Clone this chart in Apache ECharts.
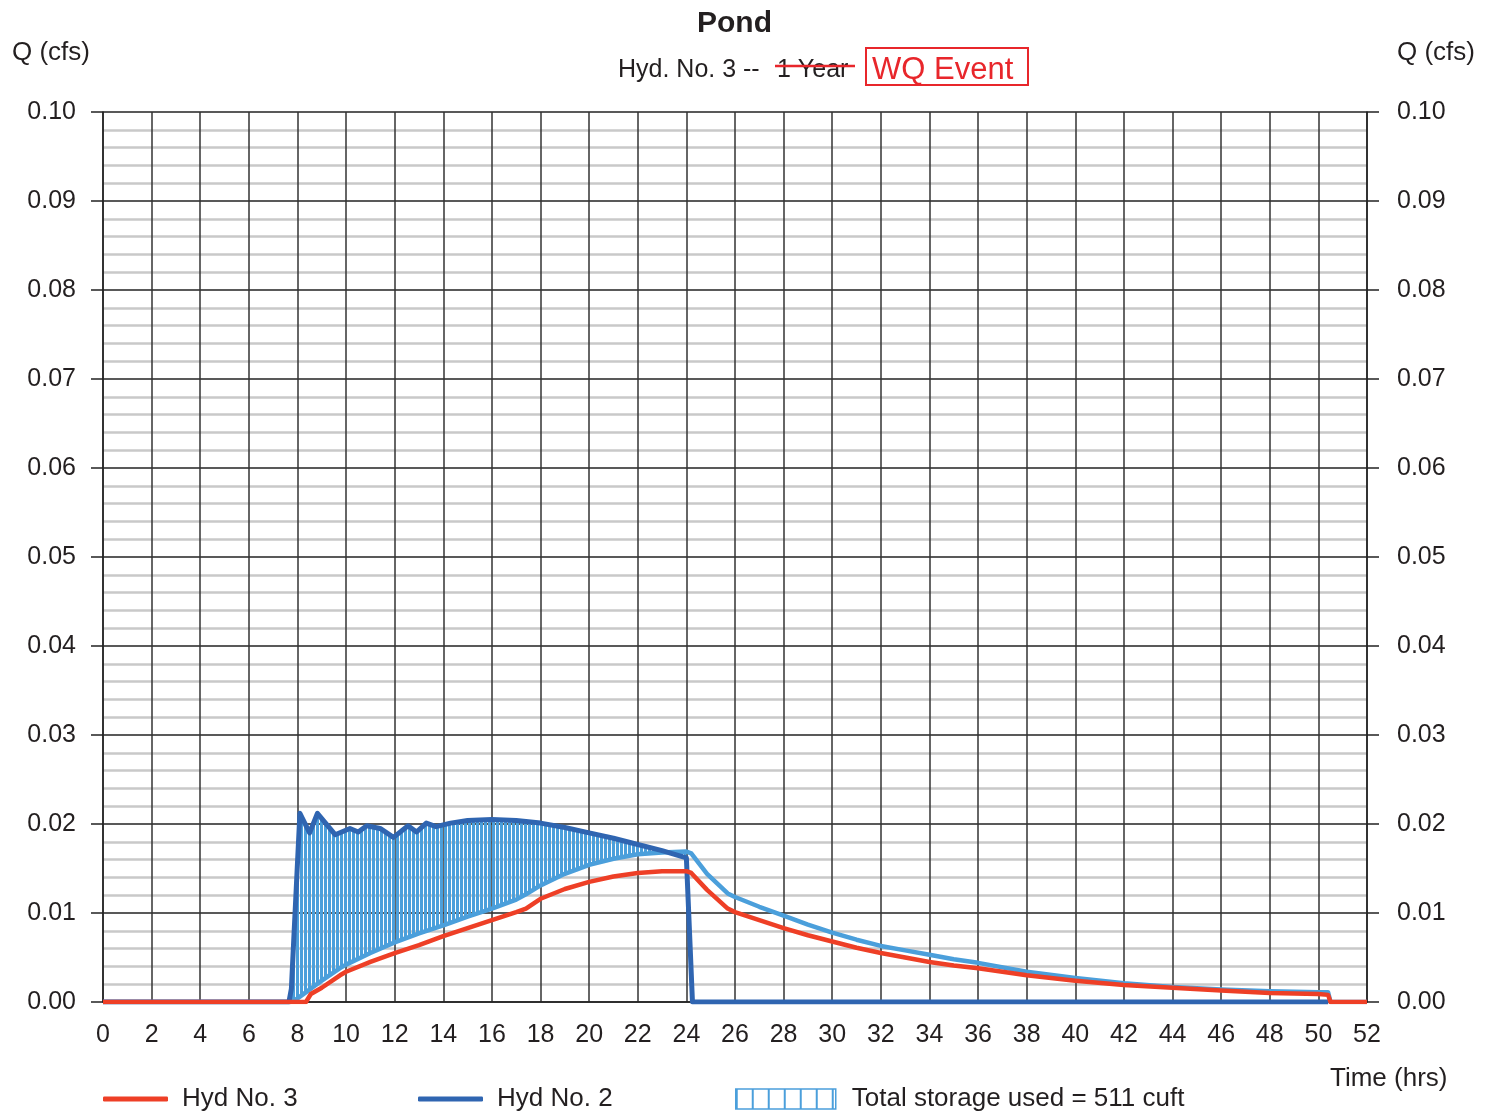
<!DOCTYPE html>
<html>
<head>
	<meta charset="utf-8">
	<title>Pond</title>
	<script src="https://cdn.jsdelivr.net/npm/echarts@6.0.0/dist/echarts.min.js"></script>
	<style>
		html, body { margin: 0; padding: 0; background: #fff; }
		#chart { width: 1494px; height: 1114px; }
	</style>
</head>
<body>
	<div id="chart"></div>
	<script>
		// Hyd No. 3 (outflow, red)
		var hyd3Time = [0, 8.35, 8.55, 9, 9.75, 10, 11, 12, 13, 14, 15, 16, 17, 17.4, 18, 19, 20, 21, 22, 23, 24, 24.2, 24.85, 25.7, 26, 27, 28, 29, 30, 31, 32, 33, 34, 35, 36, 38, 40, 42, 44, 46, 48, 50, 50.4, 50.5, 52];
		var hyd3Q = [0, 0, 0.0009, 0.0016, 0.0030, 0.0034, 0.0045, 0.0055, 0.0064, 0.0074, 0.0083, 0.0092, 0.0101, 0.0105, 0.0116, 0.0127, 0.0135, 0.0141, 0.0145, 0.0147, 0.0147, 0.0145, 0.0126, 0.0105, 0.0101, 0.0092, 0.0083, 0.0075, 0.0068, 0.0061, 0.0055, 0.0050, 0.0045, 0.0041, 0.0038, 0.0030, 0.0024, 0.0019, 0.0016, 0.0013, 0.0010, 0.0009, 0.0008, 0, 0];

		// Hyd No. 2 (dark blue)
		var hyd2Time = [0, 7.65, 7.75, 8.1, 8.5, 8.82, 9.55, 10.16, 10.5, 10.85, 11.4, 11.95, 12.55, 12.9, 13.3, 13.7, 14.3, 15, 16, 17, 18, 19, 20, 21, 22, 23, 24, 24.25, 50.4];
		var hyd2Q = [0, 0, 0.0015, 0.0212, 0.0190, 0.0212, 0.0188, 0.0195, 0.0191, 0.0198, 0.0195, 0.0185, 0.0198, 0.0191, 0.0201, 0.0197, 0.0201, 0.0204, 0.0205, 0.0204, 0.0201, 0.0196, 0.0190, 0.0184, 0.0177, 0.0170, 0.0162, 0, 0];

		// light blue hydrograph (not in legend)
		var hyd1Time = [0, 7.7, 8.0, 8.4, 8.6, 9, 9.75, 10, 11, 12, 13, 14, 15, 16, 17, 17.4, 18, 19, 20, 21, 22, 23, 24, 24.2, 24.85, 25.7, 26, 27, 28, 29, 30, 31, 32, 33, 34, 35, 36, 38, 40, 42, 44, 46, 48, 50, 50.4, 50.5, 52];
		var hyd1Q = [0, 0, 0.0004, 0.0012, 0.0016, 0.0024, 0.0038, 0.0042, 0.0055, 0.0067, 0.0077, 0.0086, 0.0096, 0.0105, 0.0115, 0.0121, 0.0131, 0.0144, 0.0154, 0.0161, 0.0166, 0.0168, 0.0169, 0.0167, 0.0144, 0.0122, 0.0118, 0.0107, 0.0097, 0.0087, 0.0078, 0.0070, 0.0063, 0.0058, 0.0053, 0.0048, 0.0044, 0.0034, 0.0027, 0.0021, 0.0017, 0.0014, 0.0012, 0.0011, 0.0011, 0, 0];

		// storage hatch range (hrs)
		var storageRange = [7.6, 24];

		var xTicks = { min: 0, max: 52, interval: 2 };
		var yTicks = { min: 0, max: 0.1, interval: 0.01 };

		var FONT = '"Liberation Sans", Arial, Helvetica, sans-serif';
		var RED = '#ee3f26';
		var DARKBLUE = '#2f65b1';
		var LIGHTBLUE = '#4b9fdb';
		var TEXT = '#231f20';

		function pairs(t, q) {
			var out = [];
			for (var i = 0; i < t.length; i++) out.push([t[i], q[i]]);
			return out;
		}

		// vertical hatch, transparent gaps
		function stripes(period, bar) {
			var c = document.createElement('canvas');
			c.width = period; c.height = 4;
			var ctx = c.getContext('2d');
			ctx.fillStyle = LIGHTBLUE;
			ctx.fillRect(0, 0, bar, 4);
			return c;
		}
		var hatchCanvas = stripes(4, 3);
		var legendHatch = stripes(16, 2);

		var chart = echarts.init(document.getElementById('chart'));

		chart.setOption({
			animation: false,
			title: {
				text: 'Pond',
				left: 697,
				top: 9,
				padding: 0,
				textStyle: { fontFamily: FONT, fontSize: 30, fontWeight: 'bold', color: TEXT }
			},
			grid: { left: 103, right: 127, top: 112, bottom: 112, outerBoundsMode: 'none' },
			legend: [
				{
					left: 103, top: 1086, padding: 0, itemWidth: 65, itemHeight: 5, selectedMode: false,
					data: [{ name: 'Hyd No. 3', icon: 'roundRect', itemStyle: { color: RED } }],
					textStyle: { fontFamily: FONT, fontSize: 26, color: TEXT, padding: [0, 0, 0, 9] }
				},
				{
					left: 418, top: 1086, padding: 0, itemWidth: 65, itemHeight: 5, selectedMode: false,
					data: [{ name: 'Hyd No. 2', icon: 'roundRect', itemStyle: { color: DARKBLUE } }],
					textStyle: { fontFamily: FONT, fontSize: 26, color: TEXT, padding: [0, 0, 0, 9] }
				},
				{
					left: 735, top: 1086, padding: 0, itemWidth: 100, itemHeight: 20, selectedMode: false,
					data: [{
						name: 'Total storage used = 511 cuft', icon: 'rect',
						itemStyle: { color: { image: legendHatch, repeat: 'repeat' }, borderColor: LIGHTBLUE, borderWidth: 1.5 }
					}],
					textStyle: { fontFamily: FONT, fontSize: 26, color: TEXT, padding: [0, 0, 0, 11] }
				}
			],
			xAxis: {
				type: 'value',
				min: xTicks.min, max: xTicks.max, interval: xTicks.interval,
				axisLine: { show: true, onZero: false, lineStyle: { color: '#222', width: 1.5 } },
				axisTick: { show: false },
				axisLabel: { fontFamily: FONT, fontSize: 25, color: TEXT, margin: 21 },
				splitLine: { show: true, lineStyle: { color: '#333', width: 1.5 } }
			},
			yAxis: [
				{
					type: 'value', position: 'left',
					min: yTicks.min, max: yTicks.max, interval: yTicks.interval,
					name: 'Q (cfs)', nameLocation: 'end', nameGap: 46,
					nameTextStyle: { fontFamily: FONT, fontSize: 26, color: TEXT, align: 'right', padding: [0, 13, 0, 0] },
					axisLine: { show: true, lineStyle: { color: '#222', width: 1.5 } },
					axisTick: { show: true, length: 12, lineStyle: { color: '#222', width: 1.5 } },
					axisLabel: { fontFamily: FONT, fontSize: 25, color: TEXT, margin: 27, formatter: function (v) { return v.toFixed(2); } },
					splitLine: { show: true, lineStyle: { color: '#222', width: 1.5 } },
					minorTick: { show: false, splitNumber: 5 },
					minorSplitLine: { show: true, lineStyle: { color: '#c9c9c9', width: 2.5 } }
				},
				{
					type: 'value', position: 'right',
					min: yTicks.min, max: yTicks.max, interval: yTicks.interval,
					name: 'Q (cfs)', nameLocation: 'end', nameGap: 46,
					nameTextStyle: { fontFamily: FONT, fontSize: 26, color: TEXT, align: 'left', padding: [0, 0, 0, 30] },
					axisLine: { show: true, lineStyle: { color: '#222', width: 1.5 } },
					axisTick: { show: true, length: 12, lineStyle: { color: '#222', width: 1.5 } },
					axisLabel: { fontFamily: FONT, fontSize: 25, color: TEXT, margin: 30, formatter: function (v) { return v.toFixed(2); } },
					splitLine: { show: false }
				}
			],
			graphic: [
				{ type: 'text', left: 618, top: 58, style: { text: 'Hyd. No. 3 --', font: '25px ' + FONT, fill: TEXT } },
				{ type: 'text', left: 777, top: 58, style: { text: '1 Year', font: '25px ' + FONT, fill: TEXT } },
				{ type: 'line', shape: { x1: 775, y1: 66, x2: 855, y2: 66 }, style: { stroke: '#e8262b', lineWidth: 2.5 } },
				{ type: 'rect', shape: { x: 866, y: 48, width: 162, height: 37 }, style: { fill: 'none', stroke: '#e8262b', lineWidth: 2 } },
				{ type: 'text', left: 872, top: 55, style: { text: 'WQ Event', font: '31px ' + FONT, fill: '#e8262b' } },
				{ type: 'text', left: 1330, top: 1066, style: { text: 'Time (hrs)', font: '26px ' + FONT, fill: TEXT } }
			],
			series: [
				{
					name: 'Total storage used = 511 cuft',
					type: 'custom',
					z: 1,
					clip: true,
					itemStyle: { color: LIGHTBLUE },
					data: [[0, 0]],
					renderItem: function (params, api) {
						var pts = [];
						var i;
						for (i = 0; i < hyd2Time.length; i++) {
							if (hyd2Time[i] >= storageRange[0] && hyd2Time[i] <= storageRange[1]) pts.push(api.coord([hyd2Time[i], hyd2Q[i]]));
						}
						for (i = hyd1Time.length - 1; i >= 0; i--) {
							if (hyd1Time[i] >= storageRange[0] && hyd1Time[i] <= storageRange[1]) pts.push(api.coord([hyd1Time[i], hyd1Q[i]]));
						}
						return {
							type: 'polygon',
							shape: { points: pts },
							style: { fill: { image: hatchCanvas, repeat: 'repeat' }, stroke: null }
						};
					}
				},
				{
					name: 'Inflow',
					type: 'line', z: 2, symbol: 'none', silent: true,
					data: pairs(hyd1Time, hyd1Q),
					itemStyle: { color: LIGHTBLUE },
					lineStyle: { color: LIGHTBLUE, width: 4.5, join: 'round' }
				},
				{
					name: 'Hyd No. 2',
					type: 'line', z: 3, symbol: 'none', silent: true,
					data: pairs(hyd2Time, hyd2Q),
					itemStyle: { color: DARKBLUE },
					lineStyle: { color: DARKBLUE, width: 5, join: 'round' }
				},
				{
					name: 'Hyd No. 3',
					type: 'line', z: 4, symbol: 'none', silent: true,
					data: pairs(hyd3Time, hyd3Q),
					itemStyle: { color: RED },
					lineStyle: { color: RED, width: 4.5, join: 'round' }
				}
			]
		});
	</script>
</body>
</html>
